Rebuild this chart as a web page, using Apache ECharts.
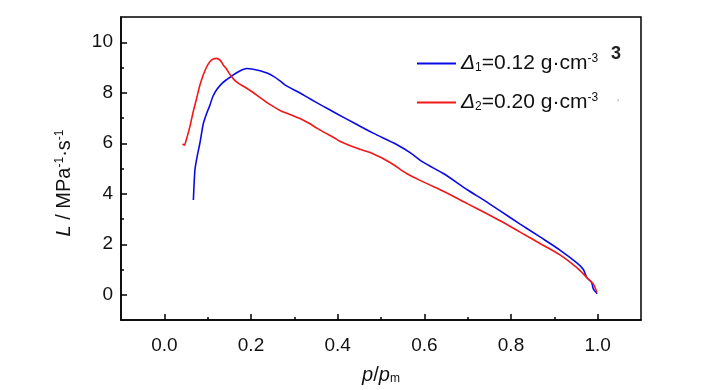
<!DOCTYPE html>
<html>
<head>
<meta charset="utf-8">
<script src="https://cdn.jsdelivr.net/npm/echarts@6/dist/echarts.min.js"></script>
<style>
html,body{margin:0;padding:0;background:#fff;}
#c{width:728px;height:390px;}
</style>
</head>
<body>
<div id="c"></div>
<script>
// ---- data ----
var seriesNames = ['Δ1=0.12 g·cm-3', 'Δ2=0.20 g·cm-3'];
var xMajorTicks = [0, 0.2, 0.4, 0.6, 0.8, 1.0];
var xMinorTicks = [0.1, 0.3, 0.5, 0.7, 0.9];
var yMajorTicks = [0, 2, 4, 6, 8, 10];
var yMinorTicks = [1, 3, 5, 7, 9];
var delta1 = [
  [0.067,3.75],[0.069,4.5],[0.071,5.0],[0.076,5.5],[0.082,6.0],[0.086,6.4],[0.090,6.78],
  [0.097,7.15],[0.105,7.5],[0.112,7.85],[0.121,8.13],[0.135,8.4],[0.152,8.62],[0.170,8.82],
  [0.190,8.96],[0.205,8.93],[0.221,8.87],[0.237,8.78],[0.252,8.65],[0.267,8.47],[0.282,8.27],
  [0.310,8.02],[0.336,7.76],[0.365,7.48],[0.398,7.17],[0.440,6.78],[0.482,6.40],[0.536,5.95],
  [0.568,5.62],[0.598,5.24],[0.644,4.80],[0.700,4.15],[0.740,3.72],[0.775,3.32],[0.821,2.80],
  [0.867,2.29],[0.913,1.77],[0.952,1.26],[0.967,1.0],[0.975,0.68],[0.986,0.49],[0.990,0.23],
  [0.999,0.04]
];
var delta2 = [
  [0.042,5.98],[0.046,5.92],[0.050,6.1],[0.059,6.66],[0.066,7.2],[0.075,7.81],[0.082,8.3],
  [0.090,8.71],[0.097,9.0],[0.105,9.23],[0.113,9.34],[0.121,9.36],[0.129,9.28],[0.136,9.10],
  [0.145,8.9],[0.152,8.71],[0.162,8.5],[0.175,8.33],[0.190,8.18],[0.205,8.01],[0.220,7.82],
  [0.236,7.62],[0.252,7.45],[0.267,7.30],[0.290,7.14],[0.313,6.98],[0.335,6.78],[0.352,6.60],
  [0.370,6.42],[0.390,6.24],[0.405,6.08],[0.451,5.76],[0.475,5.63],[0.520,5.25],[0.559,4.80],
  [0.600,4.45],[0.650,4.05],[0.700,3.6],[0.740,3.25],[0.775,2.93],[0.821,2.48],[0.867,2.03],
  [0.913,1.58],[0.952,1.07],[0.975,0.68],[0.990,0.42],[0.998,0.10]
];
var xTitle = '{i|p}/{i|p}{sub|m}';
var yTitle = '{i|L} / MPa{sup|-1}·s{sup|-1}';
// ---- chart ----
var FF = '"Liberation Sans", Arial, sans-serif';
function richFor(size) {
  return {
    i: {fontStyle: 'italic', fontSize: size, fontFamily: FF, color: '#111'},
    sub: {fontSize: Math.round(size * 0.58), fontFamily: FF, color: '#111', verticalAlign: 'bottom'},
    sup: {fontSize: Math.round(size * 0.58), fontFamily: FF, color: '#111', verticalAlign: 'top'}
  };
}
var legendRich = {};
legendRich[seriesNames[0]] = '{i|Δ}{sub|1}=0.12 g·cm{sup|-3}';
legendRich[seriesNames[1]] = '{i|Δ}{sub|2}=0.20 g·cm{sup|-3}';

var chart = echarts.init(document.getElementById('c'), null, {renderer: 'canvas'});
var axisLine = {show: true, onZero: false, lineStyle: {color: '#000', width: 1.5}};
chart.setOption({
  animation: false,
  backgroundColor: '#fff',
  grid: {left: 121, top: 17, right: 87, bottom: 61, show: true, borderColor: '#000', borderWidth: 1.5, backgroundColor: 'transparent'},
  legend: {
    orient: 'vertical', left: 412, top: 48, itemWidth: 39, itemHeight: 2, icon: 'rect', itemGap: 18,
    data: seriesNames,
    formatter: function (n) { return legendRich[n]; },
    textStyle: {fontSize: 21, fontFamily: FF, color: '#111', rich: richFor(21)}
  },
  xAxis: [{
    type: 'value', min: -0.1, max: 1.1, position: 'bottom',
    axisLine: axisLine,
    axisTick: {show: true, inside: true, length: 6, customValues: xMajorTicks, lineStyle: {color: '#000', width: 1.5}},
    axisLabel: {customValues: xMajorTicks, formatter: function (v) { return v.toFixed(1); }, fontSize: 19, fontFamily: FF, color: '#111', margin: 16},
    splitLine: {show: false},
    name: xTitle, nameLocation: 'middle', nameGap: 45,
    nameTextStyle: {fontSize: 20, fontFamily: FF, color: '#111', rich: richFor(20)}
  }, {
    type: 'value', min: -0.1, max: 1.1, position: 'bottom', offset: 0,
    axisLine: {show: false, onZero: false},
    axisTick: {show: true, inside: true, length: 3, customValues: xMinorTicks, lineStyle: {color: '#000', width: 1.5}},
    axisLabel: {show: false}, splitLine: {show: false}
  }],
  yAxis: [{
    type: 'value', min: -1, max: 11, position: 'left',
    axisLine: axisLine,
    axisTick: {show: true, inside: true, length: 6, customValues: yMajorTicks, lineStyle: {color: '#000', width: 1.5}},
    axisLabel: {customValues: yMajorTicks, fontSize: 19, fontFamily: FF, color: '#111', margin: 8},
    splitLine: {show: false}
  }, {
    type: 'value', min: -1, max: 11, position: 'left', offset: 0,
    axisLine: {show: false, onZero: false},
    axisTick: {show: true, inside: true, length: 3, customValues: yMinorTicks, lineStyle: {color: '#000', width: 1.5}},
    axisLabel: {show: false}, splitLine: {show: false}
  }],
  graphic: [
    {type: 'text', x: 64, y: 183, rotation: Math.PI / 2,
     style: {text: yTitle, rich: richFor(20), fontSize: 20, fontFamily: FF, fill: '#111', align: 'center', verticalAlign: 'middle'}},
    {type: 'text', left: 611, top: 45, style: {text: '3', fontSize: 18, fontWeight: 'bold', fontFamily: FF, fill: '#222'}},
    {type: 'text', left: 617, top: 99, style: {text: "'", fontSize: 12, fontFamily: FF, fill: '#bbb'}}
  ],
  series: [{
    name: seriesNames[0], type: 'line', data: delta1, xAxisIndex: 0, yAxisIndex: 0,
    showSymbol: false, smooth: 0.3, lineStyle: {color: '#0a0ae6', width: 1.6}, itemStyle: {color: '#0a0ae6'}
  }, {
    name: seriesNames[1], type: 'line', data: delta2, xAxisIndex: 0, yAxisIndex: 0,
    showSymbol: false, smooth: 0.3, lineStyle: {color: '#f01818', width: 1.6}, itemStyle: {color: '#f01818'}
  }]
});
</script>
</body>
</html>
